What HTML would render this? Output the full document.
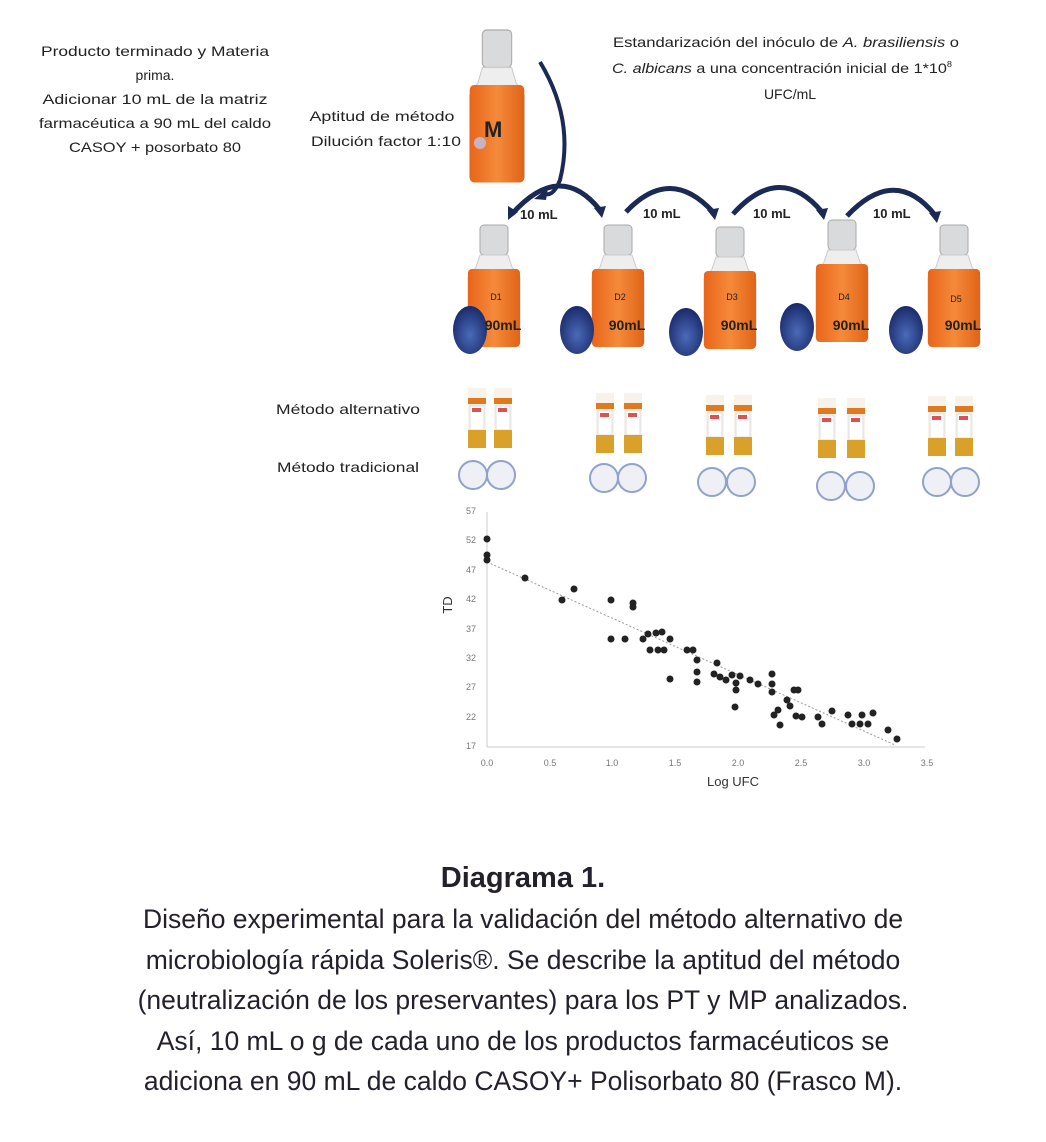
<!DOCTYPE html>
<html><head><meta charset="utf-8"><style>
body{margin:0;background:#fff;width:1046px;height:1142px;overflow:hidden;font-family:"Liberation Sans",sans-serif}
svg{position:absolute;left:0;top:0}
.cap{position:absolute;left:0;width:1046px;text-align:center;color:#231f2b}
</style></head><body>
<svg width="1046" height="1142" viewBox="0 0 1046 1142">
<defs>
<linearGradient id="org" x1="0" x2="1"><stop offset="0" stop-color="#e8651a"/><stop offset="0.5" stop-color="#f58a3a"/><stop offset="1" stop-color="#e06418"/></linearGradient>
<radialGradient id="blue" cx="0.5" cy="0.6" r="0.6"><stop offset="0" stop-color="#4a6ab8"/><stop offset="1" stop-color="#1a2a6a"/></radialGradient>
<g id="bot">
<rect x="-14" y="0" width="28" height="30" rx="4" fill="#d8dadc" stroke="#aaa"/>
<path d="M-14 30 L-18 42 L-26 52 L-26 118 Q0 124 26 118 L26 52 L18 42 L14 30Z" fill="#eeeeee" stroke="#ccc"/>
<rect x="-26" y="44" width="52" height="78" rx="4" fill="url(#org)"/>
</g>
<g id="tube"><rect x="0" y="0" width="18" height="60" fill="#f7f3ea"/><rect x="0" y="10" width="18" height="6" fill="#e07a20"/><rect x="2" y="18" width="14" height="24" fill="#fff" stroke="#ddd"/><rect x="4" y="20" width="9" height="4" fill="#e05050"/><rect x="0" y="42" width="18" height="18" fill="#d9a02a"/></g>
</defs>
<g font-family="Liberation Sans,sans-serif" font-size="14" fill="#222" text-anchor="middle">
<text x="155" y="56" textLength="228" lengthAdjust="spacingAndGlyphs">Producto terminado y Materia</text>
<text x="155" y="80">prima.</text>
<text x="155" y="104" textLength="225" lengthAdjust="spacingAndGlyphs">Adicionar 10 mL de la matriz</text>
<text x="155" y="128" textLength="232" lengthAdjust="spacingAndGlyphs">farmacéutica a 90 mL del caldo</text>
<text x="155" y="152" textLength="172" lengthAdjust="spacingAndGlyphs">CASOY + posorbato 80</text>
<text x="786" y="47" textLength="346" lengthAdjust="spacingAndGlyphs">Estandarización del inóculo de <tspan font-style="italic">A. brasiliensis</tspan> o</text>
<text x="782" y="73" textLength="340" lengthAdjust="spacingAndGlyphs"><tspan font-style="italic">C. albicans</tspan> a una concentración inicial de 1*10<tspan font-size="8" dy="-6">8</tspan></text>
<text x="790" y="99">UFC/mL</text>
<text x="382" y="121" textLength="145" lengthAdjust="spacingAndGlyphs">Aptitud de método</text>
<text x="386" y="146" textLength="150" lengthAdjust="spacingAndGlyphs">Dilución factor 1:10</text>
<text x="348" y="414" textLength="144" lengthAdjust="spacingAndGlyphs">Método alternativo</text>
<text x="348" y="472" textLength="142" lengthAdjust="spacingAndGlyphs">Método tradicional</text>
</g>
<g transform="translate(497,30) scale(1.05,1.25)"><use href="#bot"/></g>
<text x="484" y="137" font-size="22" font-weight="bold" fill="#222" font-family="Liberation Sans,sans-serif">M</text>
<circle cx="480" cy="143" r="6" fill="#c9b3c0"/>
<path d="M540 62 Q575 120 560 180 Q552 200 542 192" fill="none" stroke="#1a2a55" stroke-width="4"/>
<polygon points="534,199 548,188 546,200" fill="#1a2a55"/>
<g font-family="Liberation Sans,sans-serif" fill="#222">
<g transform="translate(494,225)"><use href="#bot"/></g>
<g transform="translate(618,225)"><use href="#bot"/></g>
<g transform="translate(730,227)"><use href="#bot"/></g>
<g transform="translate(842,220)"><use href="#bot"/></g>
<g transform="translate(954,225)"><use href="#bot"/></g>
</g>
<g fill="url(#blue)"><ellipse cx="470" cy="330" rx="17" ry="24"/><ellipse cx="577" cy="330" rx="17" ry="24"/><ellipse cx="686" cy="332" rx="17" ry="24"/><ellipse cx="797" cy="327" rx="17" ry="24"/><ellipse cx="906" cy="330" rx="17" ry="24"/></g>
<g font-family="Liberation Sans,sans-serif" fill="#222">
<g font-size="9" text-anchor="middle"><text x="496" y="300">D1</text><text x="620" y="300">D2</text><text x="732" y="300">D3</text><text x="844" y="300">D4</text><text x="956" y="302">D5</text></g>
<g font-size="14" font-weight="bold" text-anchor="middle"><text x="503" y="330">90mL</text><text x="627" y="330">90mL</text><text x="739" y="330">90mL</text><text x="851" y="330">90mL</text><text x="963" y="330">90mL</text></g>
</g>
<g fill="none" stroke="#1a2a55" stroke-width="5">
<path d="M512 214 Q560 160 600 210"/><path d="M626 212 Q670 165 713 212"/><path d="M733 214 Q780 162 822 212"/><path d="M847 216 Q895 165 935 215"/>
</g>
<g fill="#1a2a55"><polygon points="594,208 606,206 602,218"/><polygon points="707,210 719,208 715,220"/><polygon points="816,210 828,208 824,220"/><polygon points="929,213 941,211 937,223"/><polygon points="508,206 518,212 508,220"/></g>
<g font-family="Liberation Sans,sans-serif" font-size="13" font-weight="bold" fill="#222"><text x="520" y="219">10 mL</text><text x="643" y="218">10 mL</text><text x="753" y="218">10 mL</text><text x="873" y="218">10 mL</text></g>
<g><use href="#tube" x="468" y="388"/><use href="#tube" x="494" y="388"/><use href="#tube" x="596" y="393"/><use href="#tube" x="624" y="393"/><use href="#tube" x="706" y="395"/><use href="#tube" x="734" y="395"/><use href="#tube" x="818" y="398"/><use href="#tube" x="847" y="398"/><use href="#tube" x="928" y="396"/><use href="#tube" x="955" y="396"/></g>
<g fill="#eef0f6" stroke="#8ea2cc" stroke-width="2"><circle cx="473" cy="475" r="14"/><circle cx="501" cy="475" r="14"/><circle cx="604" cy="478" r="14"/><circle cx="632" cy="478" r="14"/><circle cx="712" cy="482" r="14"/><circle cx="741" cy="482" r="14"/><circle cx="831" cy="486" r="14"/><circle cx="860" cy="486" r="14"/><circle cx="937" cy="482" r="14"/><circle cx="965" cy="482" r="14"/></g>
<g font-family="Liberation Sans,sans-serif" font-size="9" fill="#777">
<line x1="487" y1="512" x2="487" y2="747" stroke="#ccc"/><line x1="487" y1="747" x2="925" y2="747" stroke="#ccc"/>
<g text-anchor="end"><text x="476" y="514">57</text><text x="476" y="543">52</text><text x="476" y="573">47</text><text x="476" y="602">42</text><text x="476" y="632">37</text><text x="476" y="661">32</text><text x="476" y="690">27</text><text x="476" y="720">22</text><text x="476" y="749">17</text></g>
<g text-anchor="middle"><text x="487" y="766">0.0</text><text x="550" y="766">0.5</text><text x="612" y="766">1.0</text><text x="675" y="766">1.5</text><text x="738" y="766">2.0</text><text x="801" y="766">2.5</text><text x="864" y="766">3.0</text><text x="927" y="766">3.5</text></g>
<text x="733" y="786" font-size="13" fill="#333" text-anchor="middle">Log UFC</text>
<text transform="translate(452,605) rotate(-90)" font-size="13" fill="#333" text-anchor="middle">TD</text>
<line x1="487" y1="562" x2="895" y2="745" stroke="#999" stroke-dasharray="2,2"/>
</g>
<g fill="#222">
<circle cx="487" cy="539" r="3.5"/><circle cx="487" cy="555" r="3.5"/><circle cx="487" cy="560" r="3.5"/><circle cx="525" cy="578" r="3.5"/><circle cx="562" cy="600" r="3.5"/><circle cx="574" cy="589" r="3.5"/><circle cx="611" cy="600" r="3.5"/><circle cx="633" cy="603" r="3.5"/><circle cx="633" cy="607" r="3.5"/>
<circle cx="611" cy="639" r="3.5"/><circle cx="625" cy="639" r="3.5"/><circle cx="643" cy="639" r="3.5"/><circle cx="648" cy="634" r="3.5"/><circle cx="656" cy="633" r="3.5"/><circle cx="662" cy="632" r="3.5"/><circle cx="670" cy="639" r="3.5"/><circle cx="650" cy="650" r="3.5"/><circle cx="658" cy="650" r="3.5"/><circle cx="664" cy="650" r="3.5"/>
<circle cx="687" cy="650" r="3.5"/><circle cx="693" cy="650" r="3.5"/><circle cx="697" cy="660" r="3.5"/><circle cx="697" cy="672" r="3.5"/><circle cx="697" cy="682" r="3.5"/><circle cx="670" cy="679" r="3.5"/>
<circle cx="717" cy="663" r="3.5"/><circle cx="714" cy="674" r="3.5"/><circle cx="720" cy="677" r="3.5"/><circle cx="726" cy="680" r="3.5"/><circle cx="732" cy="675" r="3.5"/><circle cx="736" cy="683" r="3.5"/><circle cx="740" cy="676" r="3.5"/><circle cx="736" cy="690" r="3.5"/><circle cx="735" cy="707" r="3.5"/><circle cx="750" cy="680" r="3.5"/><circle cx="758" cy="684" r="3.5"/>
<circle cx="772" cy="674" r="3.5"/><circle cx="772" cy="684" r="3.5"/><circle cx="772" cy="692" r="3.5"/><circle cx="774" cy="715" r="3.5"/><circle cx="778" cy="710" r="3.5"/><circle cx="780" cy="725" r="3.5"/><circle cx="787" cy="700" r="3.5"/><circle cx="790" cy="706" r="3.5"/><circle cx="794" cy="690" r="3.5"/><circle cx="798" cy="690" r="3.5"/><circle cx="796" cy="716" r="3.5"/><circle cx="802" cy="717" r="3.5"/>
<circle cx="818" cy="717" r="3.5"/><circle cx="822" cy="724" r="3.5"/><circle cx="832" cy="711" r="3.5"/><circle cx="848" cy="715" r="3.5"/><circle cx="852" cy="724" r="3.5"/><circle cx="860" cy="724" r="3.5"/><circle cx="862" cy="715" r="3.5"/><circle cx="868" cy="724" r="3.5"/><circle cx="873" cy="713" r="3.5"/><circle cx="888" cy="730" r="3.5"/><circle cx="897" cy="739" r="3.5"/>
</g>
</svg>
<div class="cap" style="top:862px;font-size:29px;font-weight:bold">Diagrama 1.</div>
<div class="cap" style="top:899px;font-size:26.5px;line-height:40.5px">Diseño experimental para la validación del método alternativo de<br>microbiología rápida Soleris®. Se describe la aptitud del método<br>(neutralización de los preservantes) para los PT y MP analizados.<br>Así, 10 mL o g de cada uno de los productos farmacéuticos se<br>adiciona en 90 mL de caldo CASOY+ Polisorbato 80 (Frasco M).</div>
</body></html>
